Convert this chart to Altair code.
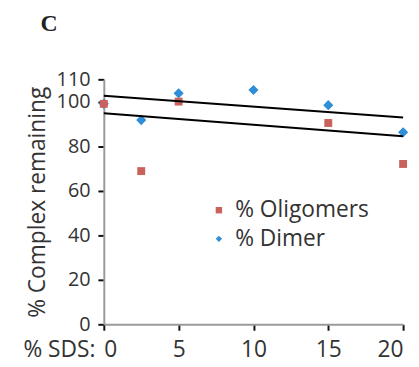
import altair as alt
import pandas as pd

# Data
sds = [0, 2.5, 5, 10, 15, 20]
dimer = [99, 91.7, 103.7, 105.2, 98.4, 86.2]
olig_x = [0, 2.5, 5, 15, 20]
olig = [99, 68.8, 100, 90.4, 72]

# Trend lines (endpoints as read)
trend_x = [0, 20]
trend_upper = [102.6, 92.9]
trend_lower = [94.8, 84.4]

series = ["% Oligomers", "% Dimer"]

pts = pd.DataFrame(
    [{"x": x, "y": y, "s": "% Dimer"} for x, y in zip(sds, dimer)]
    + [{"x": x, "y": y, "s": "% Oligomers"} for x, y in zip(olig_x, olig)]
)
lines = pd.DataFrame(
    [{"x": x, "y": y, "l": "upper"} for x, y in zip(trend_x, trend_upper)]
    + [{"x": x, "y": y, "l": "lower"} for x, y in zip(trend_x, trend_lower)]
)

FONT = "Open Sans"
TXT = "#333333"

xscale = alt.Scale(domain=[0, 20], nice=False)
yscale = alt.Scale(domain=[0, 110], nice=False)

leg = alt.Legend(title=None, orient="none", legendX=105, legendY=121,
                 symbolSize=42, labelFontSize=23, labelFont=FONT,
                 labelColor=TXT, rowPadding=5, labelOffset=5)

points = alt.Chart(pts).mark_point(filled=True, opacity=1, clip=False).encode(
    x=alt.X("x:Q", scale=xscale, axis=alt.Axis(
        values=[0, 5, 10, 15, 20], title="% SDS:", titleX=-9, titleY=33,
        titleAlign="right", titleBaseline="alphabetic", titleAnchor="start",
        labelFontSize=23, titleFontSize=23, labelPadding=9, grid=False)),
    y=alt.Y("y:Q", scale=yscale, axis=alt.Axis(
        values=[0, 20, 40, 60, 80, 100, 110], title="% Complex remaining",
        labelFontSize=20, titleFontSize=23, labelPadding=8, titlePadding=7,
        grid=False)),
    color=alt.Color("s:N", scale=alt.Scale(domain=series, range=["#c9625c", "#2e8ed8"]),
                    legend=leg),
    shape=alt.Shape("s:N", scale=alt.Scale(domain=series, range=["square", "diamond"]),
                    legend=leg),
    size=alt.condition(alt.datum.s == "% Dimer", alt.value(105), alt.value(64)),
)

trend = alt.Chart(lines).mark_line(color="black", strokeWidth=2).encode(
    x=alt.X("x:Q", scale=xscale),
    y=alt.Y("y:Q", scale=yscale),
    detail="l:N",
)

chart = alt.layer(points, trend).properties(
    width=303,
    height=248,
    autosize=alt.AutoSizeParams(type="none"),
    padding={"left": 97, "top": 70, "right": 8, "bottom": 41},
    title=alt.TitleParams("C", anchor="start", frame="group", dx=-64, dy=-30,
                          font="Liberation Serif", fontSize=24, fontWeight="bold",
                          color="#222222"),
).configure_view(stroke=None).configure_axis(
    labelFont=FONT, titleFont=FONT,
    labelColor=TXT, titleColor=TXT, titleFontWeight="normal",
    domainColor="#9a9a9a", domainWidth=2, tickColor="#111111", tickWidth=2,
    tickSize=6,
)

chart.save("out.html", embed_options={"renderer": "svg", "actions": False})
